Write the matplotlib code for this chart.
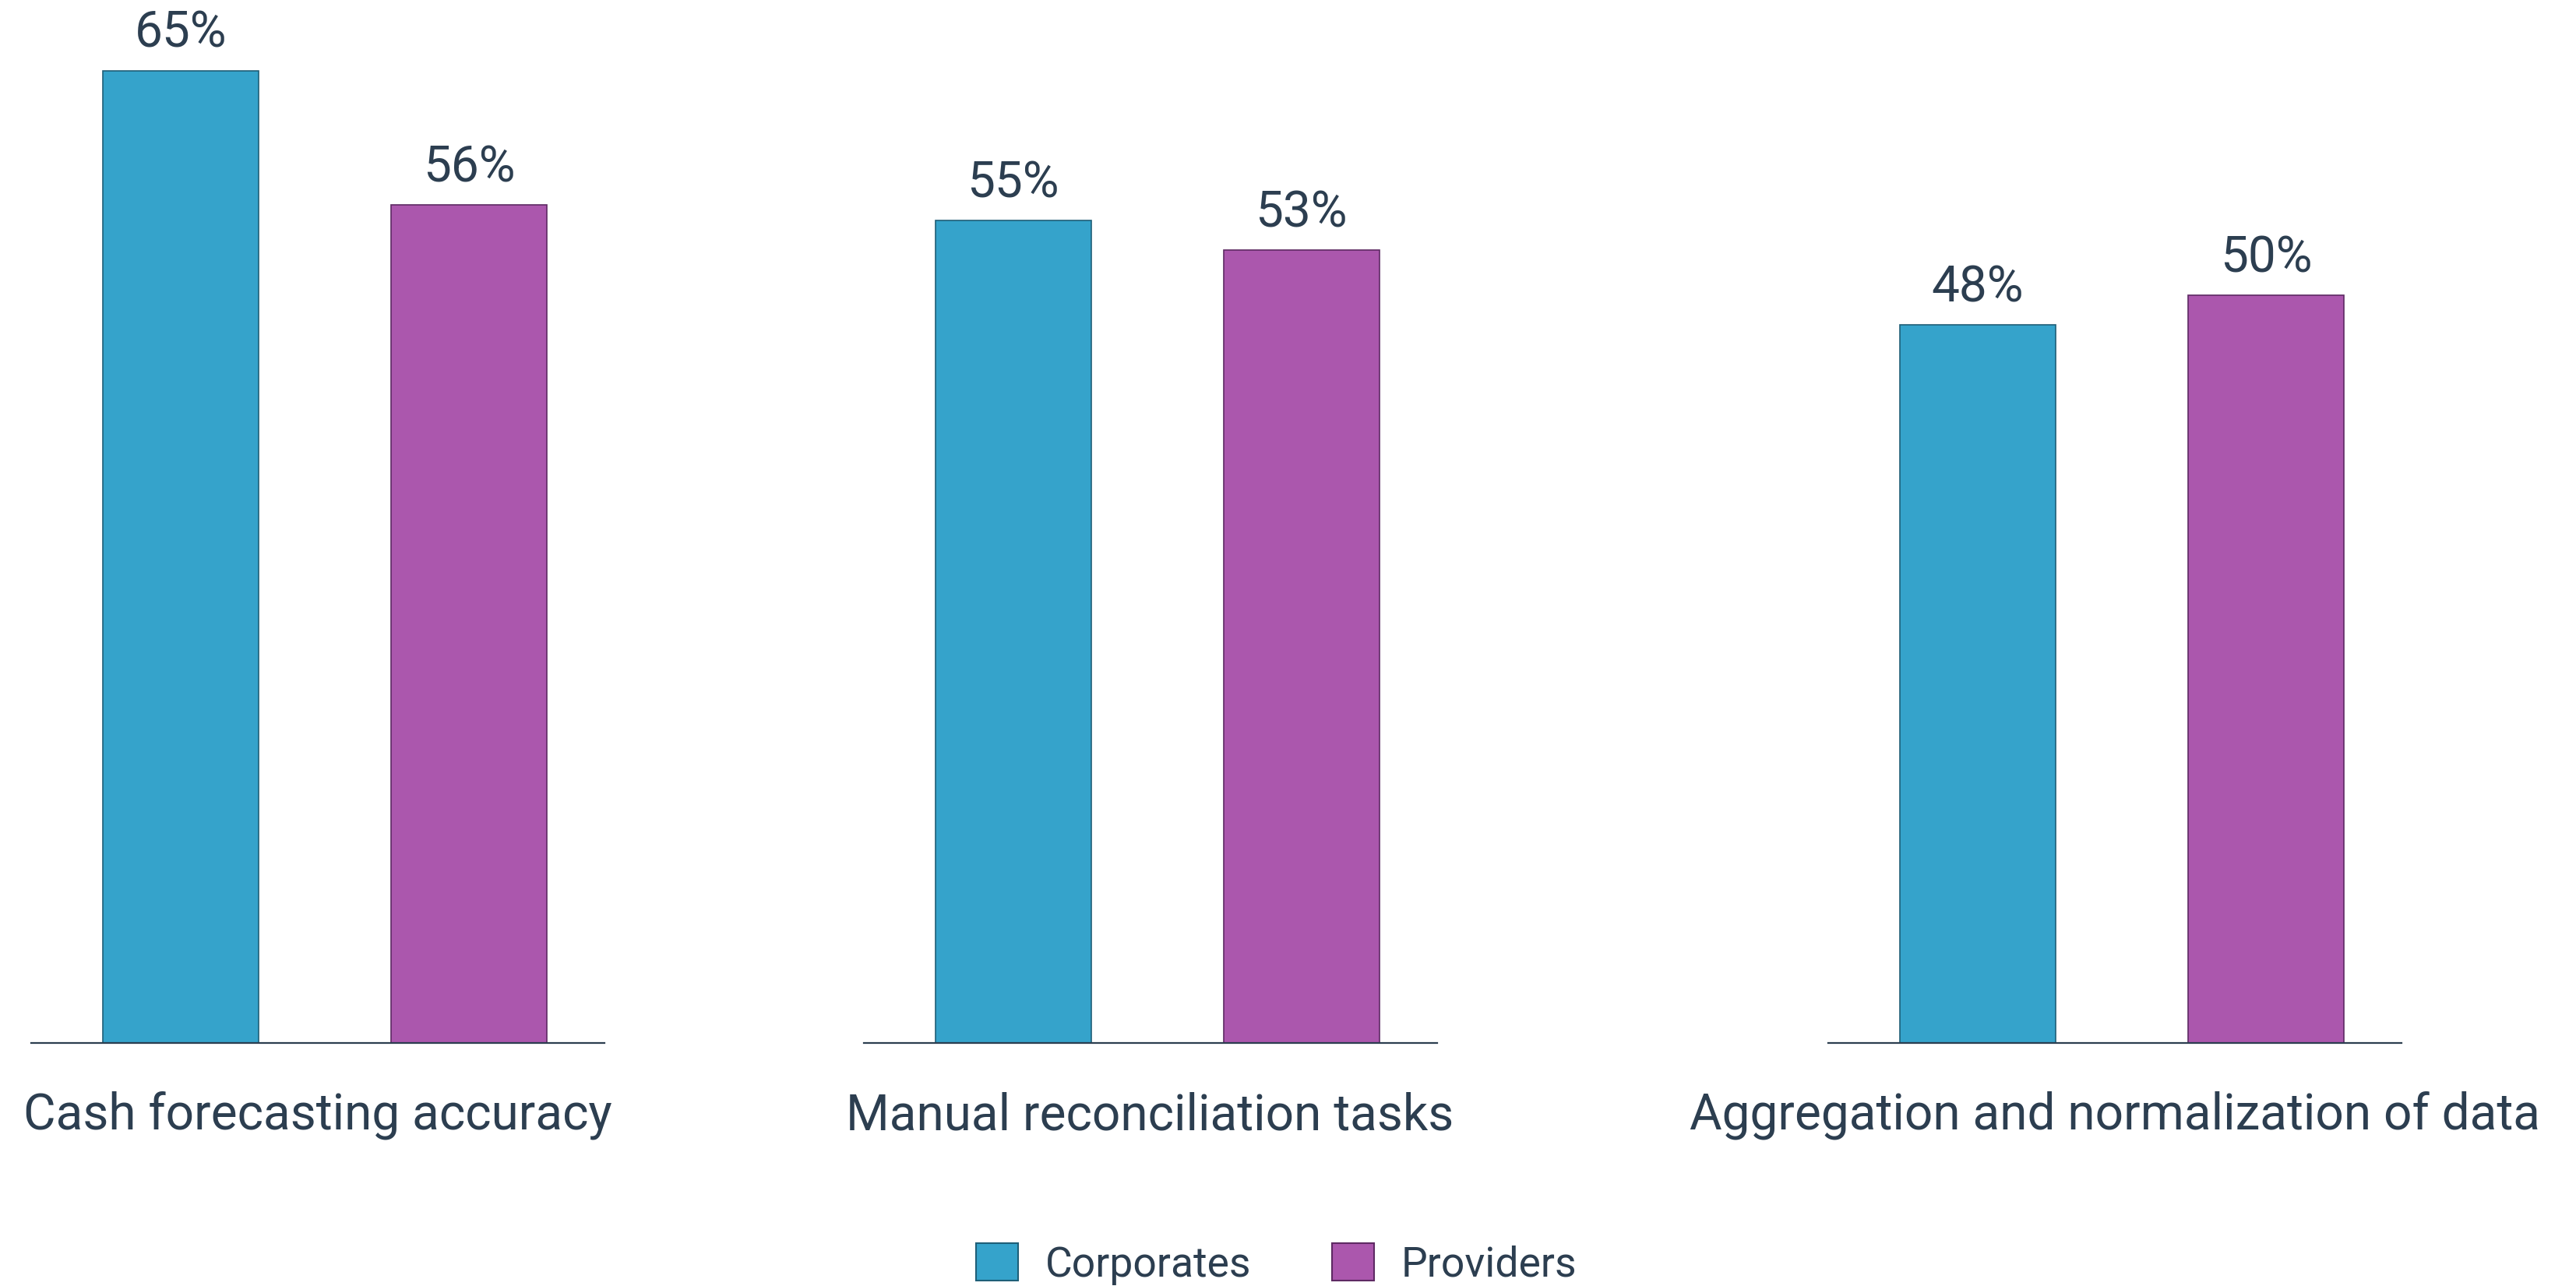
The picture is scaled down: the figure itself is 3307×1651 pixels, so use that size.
import matplotlib
matplotlib.use('Agg')
import matplotlib.pyplot as plt
from matplotlib.patches import Patch

plt.rcParams['font.family'] = ['Roboto', 'DejaVu Sans']

# Datos de la encuesta
categorias = ['Cash forecasting accuracy', 'Manual reconciliation tasks',
              'Aggregation and normalization of data']
series = ['Corporates', 'Providers']
corporates = [65, 55, 48]
providers = [56, 53, 50]

color_texto = '#2c3e50'
colores = ['#35a3cb', '#ab57ad']
bordes = ['#1f5f78', '#5e2a63']

fig = plt.figure(figsize=(33.07, 16.51), dpi=100)

# Posicion de cada grupo (fraccion de la figura)
izquierdas = [0.012, 0.3352, 0.7096]
ancho_eje = 0.2226
base = 0.189
ymax = 68
alto_eje = ymax * 9.108 / 783

for i, cat in enumerate(categorias):
    ax = fig.add_axes([izquierdas[i], base, ancho_eje, alto_eje])
    valores = [corporates[i], providers[i]]
    barras = ax.bar([0, 1], valores, width=0.54, color=colores,
                    edgecolor=bordes, linewidth=1.2, zorder=2)
    for b, v in zip(barras, valores):
        ax.annotate(f'{v}%', xy=(b.get_x() + b.get_width() / 2, v),
                    xytext=(0, 12), textcoords='offset points',
                    ha='center', va='bottom', fontsize=46,
                    color=color_texto, annotation_clip=False)
    ax.set_xlim(-0.52, 1.47)
    ax.set_ylim(0, ymax)
    for s in ['top', 'right', 'left']:
        ax.spines[s].set_visible(False)
    ax.spines['bottom'].set_color(color_texto)
    ax.spines['bottom'].set_linewidth(1.6)
    ax.set_xticks([])
    ax.set_yticks([])
    ax.patch.set_alpha(0)
    ax.annotate(cat, xy=(0.5, 0), xycoords='axes fraction',
                xytext=(0, -67), textcoords='offset points',
                ha='center', va='center', fontsize=46, color=color_texto)

handles = [Patch(facecolor=colores[k], edgecolor=bordes[k], linewidth=1.5,
                 label=series[k]) for k in range(2)]
fig.legend(handles=handles, loc='center', bbox_to_anchor=(0.4955, 0.017),
           ncol=2, frameon=False, fontsize=38.5, handlelength=1.0,
           handleheight=1.0, handletextpad=0.65, columnspacing=1.95,
           labelcolor=color_texto)

fig.savefig('out.png', dpi=100)
